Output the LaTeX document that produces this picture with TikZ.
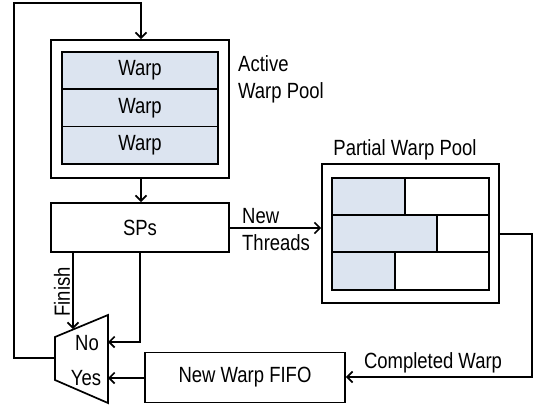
\documentclass[tikz,border=0pt]{standalone}
\usepackage{fontspec}
\setmainfont{Liberation Sans}[FakeStretch=0.84]
\usetikzlibrary{arrows.meta}
\definecolor{warpfill}{HTML}{DCE4F0}
\tikzset{
  box/.style={draw, line width=1.7pt, minimum width=#1, inner sep=0pt},
  warp/.style={draw, line width=1.7pt, fill=warpfill, minimum width=156pt, minimum height=37.3pt, inner sep=0pt},
  link/.style={line width=1.7pt, -{Straight Barb[length=5.5pt,width=11pt,line width=1.7pt]}},
  wire/.style={line width=1.7pt},
  lbl/.style={inner sep=0pt, font=\fontsize{22}{27}\selectfont},
}
\begin{document}
\begin{tikzpicture}[x=1pt,y=-1pt,font=\fontsize{22}{27}\selectfont]
\useasboundingbox (0,0) rectangle (537,406);

% Active warp pool
\node[box=178pt, minimum height=138pt] (active) at (140,109) {};
\node[warp] (w1) at (140,70.65) {Warp};
\node[warp] (w2) at (140,107.95) {Warp};
\node[warp] (w3) at (140,145.25) {Warp};
\node[lbl, anchor=base west] (activeA) at (238,72) {Active};
\node[lbl, anchor=base west] (activeB) at (238,99) {Warp Pool};

% SPs
\node[box=178pt, minimum height=49pt] (sps) at (140,227.5) {SPs};

% Partial warp pool
\node[box=177pt, minimum height=139pt] (partial) at (410.5,233.5) {};
\node[lbl, anchor=base] (partialL) at (405,155) {Partial Warp Pool};
\fill[warpfill] (332,178) rectangle (405,215);
\fill[warpfill] (332,215) rectangle (437,252);
\fill[warpfill] (332,252) rectangle (395,290);
\draw[wire] (332,178) rectangle (489,290);
\draw[wire] (332,215) -- (489,215) (332,252) -- (489,252);
\draw[wire] (405,178) -- (405,215) (437,215) -- (437,252) (395,252) -- (395,290);

% New warp FIFO
\node[box=200pt, minimum height=50pt] (fifo) at (245,377.5) {New Warp FIFO};

% Selector
\coordinate (muxTL) at (55,337);
\coordinate (muxTR) at (108,315);
\coordinate (muxBR) at (108,403);
\coordinate (muxBL) at (55,380);
\draw[wire, line join=miter] (muxTL) -- (muxTR) -- (muxBR) -- (muxBL) -- cycle;
\node[lbl] (no) at (87,343) {No};
\node[lbl] (yes) at (86,378) {Yes};
\coordinate (muxOut) at (55,358);
\coordinate (muxNo) at (108,342);
\coordinate (muxYes) at (108,378);
\coordinate (muxTop) at (73,329);

% Connectors
\draw[link] (muxOut) -- (14,358) -- (14,3) -- (141,3) -- (active.north -| 141,0);
\draw[link] (active.south -| 141,0) -- (sps.north -| 141,0);
\draw[link] (sps.south -| muxTop) -- (muxTop);
\node[lbl, rotate=90] (finish) at (62,292) {Finish};
\draw[link] (sps.south -| 140,0) -- (140,342) -- (muxNo);
\draw[link] (fifo.west |- muxYes) -- (muxYes);
\draw[link] (sps.east |- 0,228) -- (partial.west |- 0,228);
\node[lbl, anchor=base west] (newA) at (242,223) {New};
\node[lbl, anchor=base west] (newB) at (242,250) {Threads};
\draw[link] (partial.east |- 0,234) -- (532,234) -- (532,377) -- (fifo.east |- 0,377);
\node[lbl, anchor=base] (completed) at (433,368) {Completed Warp};
\end{tikzpicture}
\end{document}
